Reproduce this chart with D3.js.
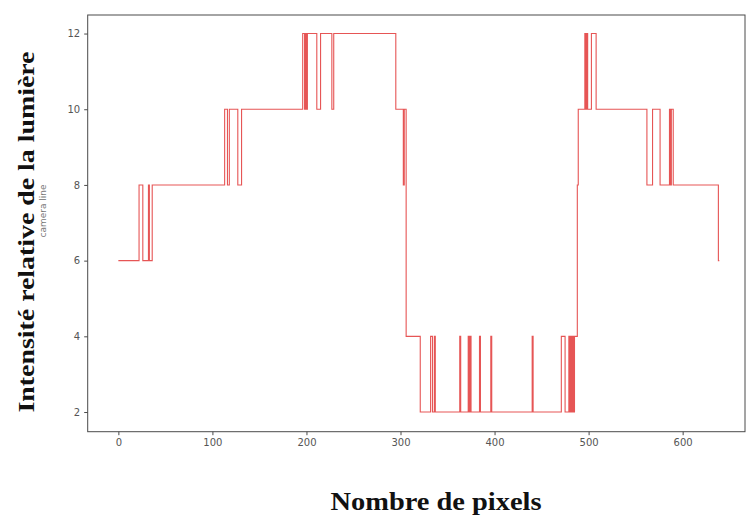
<!DOCTYPE html>
<html>
<head>
<meta charset="utf-8">
<script src="https://cdn.jsdelivr.net/npm/d3@7"></script>
<style>
  html, body { margin: 0; padding: 0; background: #fff; }
  svg { display: block; }
</style>
</head>
<body>
<svg id="chart" width="748" height="518"></svg>
<script>
// Step-run data: pixel index where a level starts, and that level
const stepStart = [0, 22, 26, 32, 33, 36, 113, 116, 118, 127, 131,
  196, 198, 199, 200, 201, 211, 215, 227, 229, 295, 303, 304,
  306, 321, 332, 334, 336, 337, 363, 364, 372, 373, 374, 375, 384, 385,
  396, 397, 440, 441, 471, 475, 479, 480, 481, 482, 483, 484, 485, 488, 489,
  496, 497, 498, 499, 503, 508, 562, 568, 576, 586, 587, 588, 590, 638, 639];
const stepLevel = [6, 8, 6, 8, 6, 8, 10, 8, 10, 8, 10,
  12, 10, 12, 10, 12, 10, 12, 10, 12, 10, 8, 10,
  4, 2, 4, 2, 4, 2, 4, 2, 4, 2, 4, 2, 4, 2,
  4, 2, 4, 2, 4, 2, 4, 2, 4, 2, 4, 2, 4, 8, 10,
  12, 10, 12, 10, 12, 10, 8, 10, 8, 10, 8, 10, 8, 6, 6];
const xTicks = [0, 100, 200, 300, 400, 500, 600];
const yTicks = [2, 4, 6, 8, 10, 12];
const yTitle = "Intensité relative de la lumière";
const xTitle = "Nombre de pixels";
const innerLabel = "camera line";

(function () {
const data = stepStart.map((s, i) => ({ x: s, y: stepLevel[i] }));

const svg = d3.select("#chart");
const pLeft = 87.7, pRight = 745, pTop = 15, pBottom = 431.7;

const x = d3.scaleLinear().domain([-32.6, 666.3]).range([pLeft, pRight]);
const y = d3.scaleLinear().domain([1.48, 12.49]).range([pBottom, pTop]);

// frame
svg.append("rect")
  .attr("x", pLeft).attr("y", pTop)
  .attr("width", pRight - pLeft).attr("height", pBottom - pTop)
  .attr("fill", "none").attr("stroke", "#4a4a4a").attr("stroke-width", 1);

// line
const line = d3.line().x(d => x(d.x)).y(d => y(d.y)).curve(d3.curveStepAfter);
svg.append("path")
  .datum(data)
  .attr("d", line)
  .attr("fill", "none")
  .attr("stroke", "#e02a2a")
  .attr("stroke-opacity", 0.8)
  .attr("stroke-width", 1.1);

// axes
const xAxis = d3.axisBottom(x).tickValues(xTicks).tickSize(3.5).tickPadding(4);
const gx = svg.append("g").attr("transform", `translate(0,${pBottom})`).call(xAxis);
gx.select(".domain").remove();

const yAxis = d3.axisLeft(y).tickValues(yTicks).tickSize(3.5).tickPadding(4);
const gy = svg.append("g").attr("transform", `translate(${pLeft},0)`).call(yAxis);
gy.select(".domain").remove();

[gx, gy].forEach(g => {
  g.selectAll(".tick line").attr("stroke", "#4a4a4a");
  g.selectAll(".tick text")
    .attr("fill", "#555")
    .style("font-family", "DejaVu Sans, sans-serif")
    .style("font-size", "10px");
});

// small inner y label
svg.append("text")
  .attr("transform", `translate(43,211) rotate(-90)`)
  .attr("text-anchor", "middle")
  .attr("dominant-baseline", "middle")
  .attr("fill", "#777")
  .style("font-family", "DejaVu Sans, sans-serif")
  .style("font-size", "9px")
  .text(innerLabel);

// big y title
svg.append("text")
  .attr("transform", `translate(34,232) rotate(-90)`)
  .attr("text-anchor", "middle")
  .attr("fill", "#111")
  .attr("textLength", 361)
  .attr("lengthAdjust", "spacingAndGlyphs")
  .style("font-family", "Liberation Serif, serif")
  .style("font-weight", "bold")
  .style("font-size", "24px")
  .text(yTitle);

// big x title
svg.append("text")
  .attr("x", 436).attr("y", 510)
  .attr("text-anchor", "middle")
  .attr("fill", "#111")
  .attr("textLength", 211)
  .attr("lengthAdjust", "spacingAndGlyphs")
  .style("font-family", "Liberation Serif, serif")
  .style("font-weight", "bold")
  .style("font-size", "25px")
  .text(xTitle);
})();
</script>
</body>
</html>
